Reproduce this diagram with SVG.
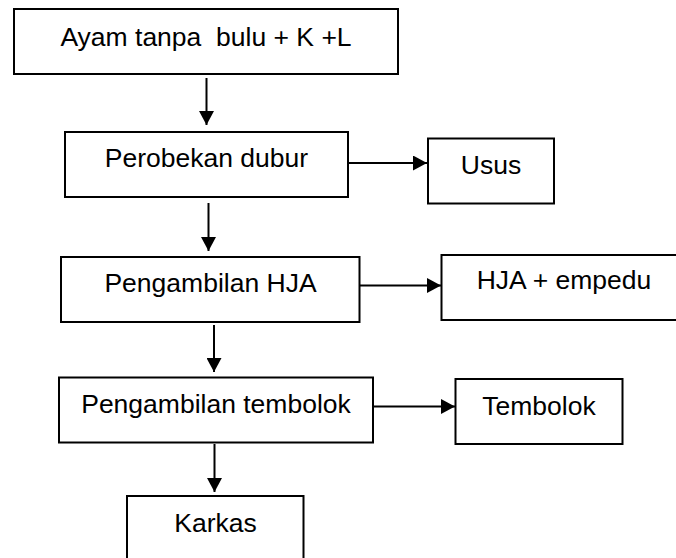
<svg xmlns="http://www.w3.org/2000/svg" width="676" height="558" viewBox="0 0 676 558">
  <defs>
    <marker id="head" markerUnits="userSpaceOnUse" markerWidth="15" markerHeight="15" refX="14" refY="7.5" orient="auto">
      <path d="M0,0 L14,7.5 L0,15 Z" fill="#000"/>
    </marker>
    <style>
      .box { fill: #fff; stroke: #000; stroke-width: 2; }
      .lbl { font-family: "Liberation Sans", Arial, sans-serif; font-size: 26.5px; fill: #000; text-anchor: middle; }
      .link { stroke: #000; stroke-width: 2; fill: none; marker-end: url(#head); }
    </style>
  </defs>
  <rect width="676" height="558" fill="#fff"/>

  <g id="ayam">
    <rect class="box" x="14" y="9" width="384" height="65"/>
    <text class="lbl" x="206" y="46" xml:space="preserve">Ayam tanpa  bulu + K +L</text>
  </g>
  <g id="perobekan">
    <rect class="box" x="65" y="132" width="283" height="65"/>
    <text class="lbl" x="206.5" y="167">Perobekan dubur</text>
  </g>
  <g id="usus">
    <rect class="box" x="428" y="138.5" width="126" height="65"/>
    <text class="lbl" x="491" y="174">Usus</text>
  </g>
  <g id="pengambilan-hja">
    <rect class="box" x="61" y="257" width="298.5" height="65"/>
    <text class="lbl" x="210.5" y="292">Pengambilan HJA</text>
  </g>
  <g id="hja-empedu">
    <rect class="box" x="441.5" y="255" width="260" height="65"/>
    <text class="lbl" x="564" y="289">HJA + empedu</text>
  </g>
  <g id="pengambilan-tembolok">
    <rect class="box" x="59" y="377.5" width="314" height="65"/>
    <text class="lbl" x="216" y="413">Pengambilan tembolok</text>
  </g>
  <g id="tembolok">
    <rect class="box" x="455.5" y="379" width="167" height="65"/>
    <text class="lbl" x="539" y="415">Tembolok</text>
  </g>
  <g id="karkas">
    <rect class="box" x="127" y="496" width="176.5" height="80"/>
    <text class="lbl" x="215.5" y="532">Karkas</text>
  </g>

  <g id="connectors">
    <line class="link" x1="206.5" y1="78" x2="206.5" y2="125"/>
    <line class="link" x1="348" y1="163" x2="427" y2="163"/>
    <line class="link" x1="208.5" y1="203" x2="208.5" y2="251"/>
    <line class="link" x1="360" y1="285.5" x2="441" y2="285.5"/>
    <line class="link" x1="214" y1="325" x2="214" y2="372"/>
    <line class="link" x1="373" y1="406.5" x2="455" y2="406.5"/>
    <line class="link" x1="214.5" y1="444" x2="214.5" y2="492"/>
  </g>
</svg>
